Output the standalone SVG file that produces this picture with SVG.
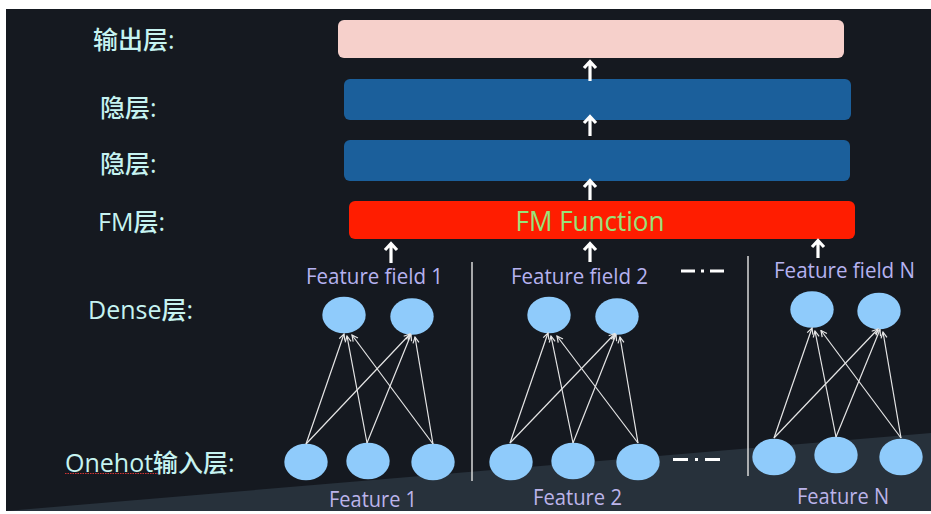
<svg xmlns="http://www.w3.org/2000/svg" width="931" height="514" viewBox="0 0 931 514">
<style>
.lbl{font-family:"Open Sans","Noto Sans CJK SC",sans-serif;font-size:25px;fill:#c6f3f1;font-weight:500}
.ff{font-family:"Open Sans",sans-serif;font-size:21.5px;fill:#b6b2f0}
.ft{font-family:"Open Sans",sans-serif;font-size:21px;fill:#bcb4ea}
.node{fill:#8fcbfb}
.edge{stroke:#e6e6e6;stroke-width:1.2;fill:none;marker-end:url(#ah)}
.big{stroke:#ffffff;stroke-width:3.2;fill:none}
.sep{stroke:#d8d8d8;stroke-width:1.5}
.dd{stroke:#ffffff;stroke-width:3}
</style>
<defs>
<marker id="ah" viewBox="0 0 8 8" refX="7" refY="4" markerWidth="8" markerHeight="8" markerUnits="userSpaceOnUse" orient="auto">
<path d="M1,1 L7,4 L1,7" stroke="#e6e6e6" stroke-width="1.2" fill="none"/>
</marker>
</defs>
<rect x="0" y="0" width="931" height="514" fill="#ffffff"/>
<rect x="6" y="9" width="925" height="502" fill="#151920"/>
<polygon points="6,511 931,433 931,511" fill="#27313b"/>

<g id="label-output"><text class="lbl" x="93" y="49">输出层:</text></g>
<g id="label-hidden1"><text class="lbl" x="100" y="117">隐层:</text></g>
<g id="label-hidden2"><text class="lbl" x="100" y="173">隐层:</text></g>
<g id="label-fm"><text class="lbl" x="98" y="231">FM层:</text></g>
<g id="label-dense"><text class="lbl" x="88" y="319">Dense层:</text></g>
<g id="label-onehot"><text class="lbl" x="65" y="472">Onehot输入层:</text>
<line x1="65" y1="473.5" x2="158" y2="473.5" stroke="#d23434" stroke-width="1.2" stroke-dasharray="1.5 1"/></g>

<g id="output-layer"><rect x="338" y="20" width="506" height="38" rx="6" fill="#f6d0cb"/></g>
<g id="hidden-layer-1"><rect x="344" y="79" width="507" height="41" rx="6" fill="#1b5f9b"/></g>
<g id="hidden-layer-2"><rect x="344" y="140" width="506" height="41" rx="6" fill="#1b5f9b"/></g>
<g id="fm-layer"><rect x="349" y="201" width="506" height="38" rx="6" fill="#ff1d00"/>
<text x="590" y="231" text-anchor="middle" font-family="Open Sans, sans-serif" font-size="27" font-weight="500" fill="#97e27a" textLength="149" lengthAdjust="spacingAndGlyphs">FM Function</text></g>

<g id="field-labels">
<text class="ff" x="306" y="284" textLength="137" lengthAdjust="spacingAndGlyphs">Feature field 1</text>
<text class="ff" x="511" y="284" textLength="137" lengthAdjust="spacingAndGlyphs">Feature field 2</text>
<text class="ff" x="774" y="278" textLength="141" lengthAdjust="spacingAndGlyphs">Feature field N</text>
</g>
<g id="feature-labels">
<text class="ft" x="329" y="507" textLength="88" lengthAdjust="spacingAndGlyphs">Feature 1</text>
<text class="ft" x="533" y="505" textLength="89" lengthAdjust="spacingAndGlyphs">Feature 2</text>
<text class="ft" x="797" y="504" textLength="92" lengthAdjust="spacingAndGlyphs">Feature N</text>
</g>

<g id="separators">
<line class="sep" x1="472" y1="262" x2="472" y2="481"/>
<line class="sep" x1="748" y1="256" x2="748" y2="476"/>
<line class="dd" x1="681" y1="271" x2="724" y2="271" stroke-dasharray="14 6 3 6 14"/>
<line class="dd" x1="673" y1="459.5" x2="720" y2="459.5" stroke-dasharray="15 7 3 7 15"/>
</g>

<g id="field1-nodes">
<g id="f1-d1"><ellipse class="node" cx="344" cy="315" rx="21.7" ry="18.3"/></g>
<g id="f1-d2"><ellipse class="node" cx="412" cy="316.5" rx="21.7" ry="18.3"/></g>
<g id="f1-b1"><ellipse class="node" cx="306" cy="462" rx="21.7" ry="18.3"/></g>
<g id="f1-b2"><ellipse class="node" cx="368" cy="461" rx="21.7" ry="18.3"/></g>
<g id="f1-b3"><ellipse class="node" cx="433" cy="462" rx="21.7" ry="18.3"/></g>
</g>
<g id="field2-nodes">
<g id="f2-d1"><ellipse class="node" cx="549" cy="315" rx="21.7" ry="18.3"/></g>
<g id="f2-d2"><ellipse class="node" cx="617" cy="316.5" rx="21.7" ry="18.3"/></g>
<g id="f2-b1"><ellipse class="node" cx="511" cy="462" rx="21.7" ry="18.3"/></g>
<g id="f2-b2"><ellipse class="node" cx="573" cy="461" rx="21.7" ry="18.3"/></g>
<g id="f2-b3"><ellipse class="node" cx="638" cy="462" rx="21.7" ry="18.3"/></g>
</g>
<g id="fieldN-nodes">
<g id="fN-d1"><ellipse class="node" cx="812" cy="309.5" rx="21.7" ry="18.3"/></g>
<g id="fN-d2"><ellipse class="node" cx="879" cy="311" rx="21.7" ry="18.3"/></g>
<g id="fN-b1"><ellipse class="node" cx="774" cy="457" rx="21.7" ry="18.3"/></g>
<g id="fN-b2"><ellipse class="node" cx="836" cy="455" rx="21.7" ry="18.3"/></g>
<g id="fN-b3"><ellipse class="node" cx="901" cy="457" rx="21.7" ry="18.3"/></g>
</g>

<g id="connectors">
<path class="big" d="M590,81 V62 M584,68 L590,61.5 L596,68"/>
<path class="big" d="M590,136 V117 M584,123 L590,116.5 L596,123"/>
<path class="big" d="M590,200 V181 M584,187 L590,180.5 L596,187"/>
<path class="big" d="M391,263 V244 M385,250 L391,243.5 L397,250"/>
<path class="big" d="M590,262 V244 M584,250 L590,243.5 L596,250"/>
<path class="big" d="M818,258 V241 M812,247 L818,240.5 L824,247"/>

<line class="edge" x1="306" y1="444" x2="344" y2="334"/>
<line class="edge" x1="306" y1="444" x2="410" y2="334"/>
<line class="edge" x1="367" y1="443" x2="347" y2="336"/>
<line class="edge" x1="367" y1="443" x2="411" y2="334.5"/>
<line class="edge" x1="433" y1="444" x2="352" y2="335"/>
<line class="edge" x1="433" y1="444" x2="415" y2="337"/>

<line class="edge" x1="510" y1="443" x2="548" y2="333"/>
<line class="edge" x1="510" y1="443" x2="615" y2="333.5"/>
<line class="edge" x1="573" y1="443" x2="551" y2="336"/>
<line class="edge" x1="573" y1="443" x2="616" y2="334.5"/>
<line class="edge" x1="638" y1="443" x2="557" y2="336"/>
<line class="edge" x1="638" y1="443" x2="620" y2="337"/>

<line class="edge" x1="774" y1="438" x2="812" y2="328"/>
<line class="edge" x1="774" y1="438" x2="878" y2="329"/>
<line class="edge" x1="836" y1="437" x2="815" y2="331"/>
<line class="edge" x1="836" y1="437" x2="880" y2="329.5"/>
<line class="edge" x1="901" y1="438" x2="821" y2="330.5"/>
<line class="edge" x1="901" y1="438" x2="883" y2="332"/>
</g>
</svg>
